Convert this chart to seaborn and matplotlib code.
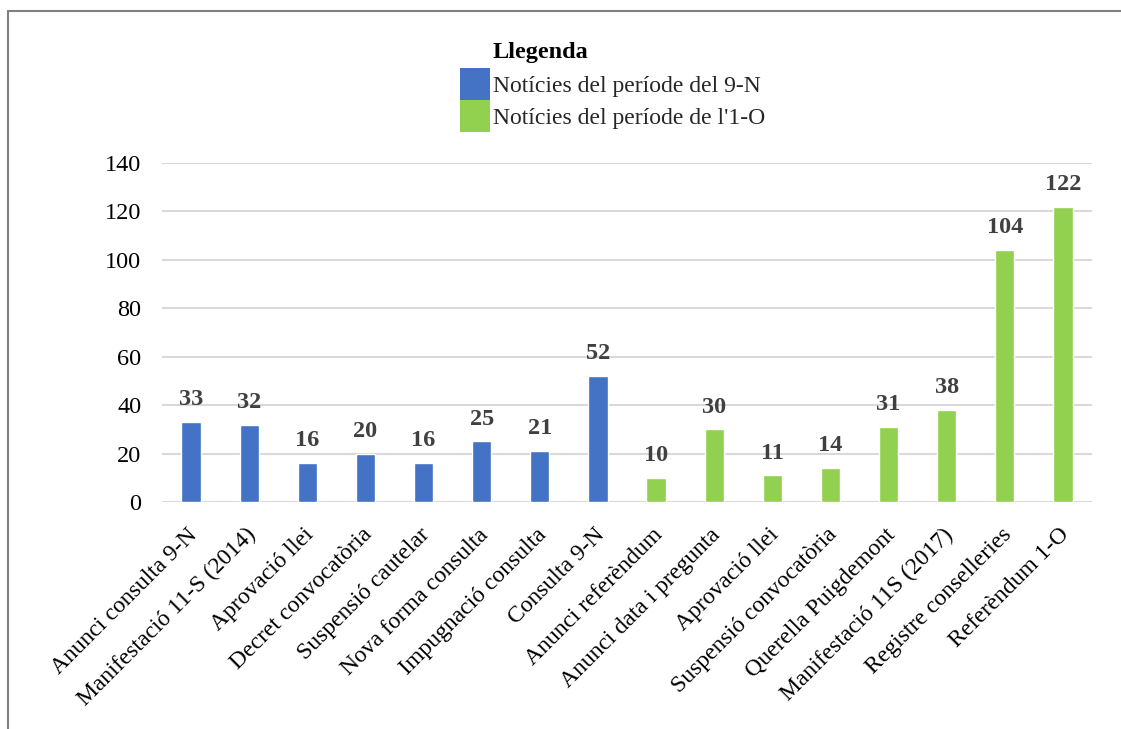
import matplotlib
matplotlib.use("Agg")
import matplotlib.pyplot as plt
import seaborn as sns
import pandas as pd
from matplotlib.patches import Patch
from matplotlib.lines import Line2D
from matplotlib.transforms import ScaledTranslation

categories = ["Anunci consulta 9-N", "Manifestació 11-S (2014)", "Aprovació llei",
              "Decret convocatòria", "Suspensió cautelar", "Nova forma consulta",
              "Impugnació consulta", "Consulta 9-N", "Anunci referèndum",
              "Anunci data i pregunta", "Aprovació llei", "Suspensió convocatòria",
              "Querella Puigdemont", "Manifestació 11S (2017)", "Registre conselleries",
              "Referèndum 1-O"]
values = [33, 32, 16, 20, 16, 25, 21, 52, 10, 30, 11, 14, 31, 38, 104, 122]
periods = ["Notícies del període del 9-N"] * 8 + ["Notícies del període de l'1-O"] * 8
series_names = ["Notícies del període del 9-N", "Notícies del període de l'1-O"]
colors = ["#4472C4", "#92D050"]
yticks = [0, 20, 40, 60, 80, 100, 120, 140]

sns.set_theme(style="white")
plt.rcParams['font.family'] = ['Liberation Serif', 'DejaVu Serif']

df = pd.DataFrame({"pos": [f"{i}" for i in range(len(categories))],
                   "value": values, "period": periods})

fig = plt.figure(figsize=(11.21, 7.29), dpi=100)
ax = fig.add_axes([162/1121, 1 - 502/729, (1092-162)/1121, (502-163)/729])

sns.barplot(data=df, x="pos", y="value", hue="period", hue_order=series_names,
            palette=dict(zip(series_names, colors)), dodge=False, width=0.33,
            ax=ax, legend=False, saturation=1)

ax.set_ylim(0, 140)
ax.set_xlim(-0.5, len(categories) - 0.5)
ax.set_yticks(yticks)
ax.set_yticklabels([str(t) for t in yticks], fontsize=17.5, color="black")
ax.set_xticks(range(len(categories)))
ax.set_xticklabels(categories, rotation=45, ha="right", va="top",
                   rotation_mode="anchor", fontsize=17, color="black")
ax.tick_params(axis="y", length=0, pad=15)
ax.tick_params(axis="x", length=0, pad=6)
off = ScaledTranslation(-3/72, -10/72, fig.dpi_scale_trans)
for lab in ax.get_xticklabels():
    lab.set_transform(lab.get_transform() + off)
ax.set_xlabel("")
ax.set_ylabel("")
for s in ax.spines.values():
    s.set_visible(False)
ax.yaxis.grid(True, color="#D9D9D9", linewidth=1.5)
ax.set_axisbelow(True)

for c in ax.containers:
    ax.bar_label(c, fmt="%d", padding=8.5, fontsize=17.5, fontweight="bold", color="#404040")

# Legend
fig.text(493/1121, 1 - 58/729, "Llegenda", fontsize=17.5, fontweight="bold",
         ha="left", va="baseline", color="black")
handles = [Patch(facecolor=c, edgecolor="none") for c in colors]
fig.legend(handles, series_names, loc="upper left",
           bbox_to_anchor=(460/1121, 1 - 68/729), frameon=False, fontsize=17,
           borderpad=0, borderaxespad=0, labelspacing=0, handlelength=1.27,
           handleheight=1.709, handletextpad=0.12)

# figure border
fig.add_artist(Line2D([8/1121, 8/1121], [0, 1 - 11/729], color="#808080", linewidth=1.5,
                      transform=fig.transFigure))
fig.add_artist(Line2D([8/1121, 1], [1 - 11/729, 1 - 11/729], color="#808080", linewidth=1.5,
                      transform=fig.transFigure))

fig.savefig("out.png", dpi=100)
